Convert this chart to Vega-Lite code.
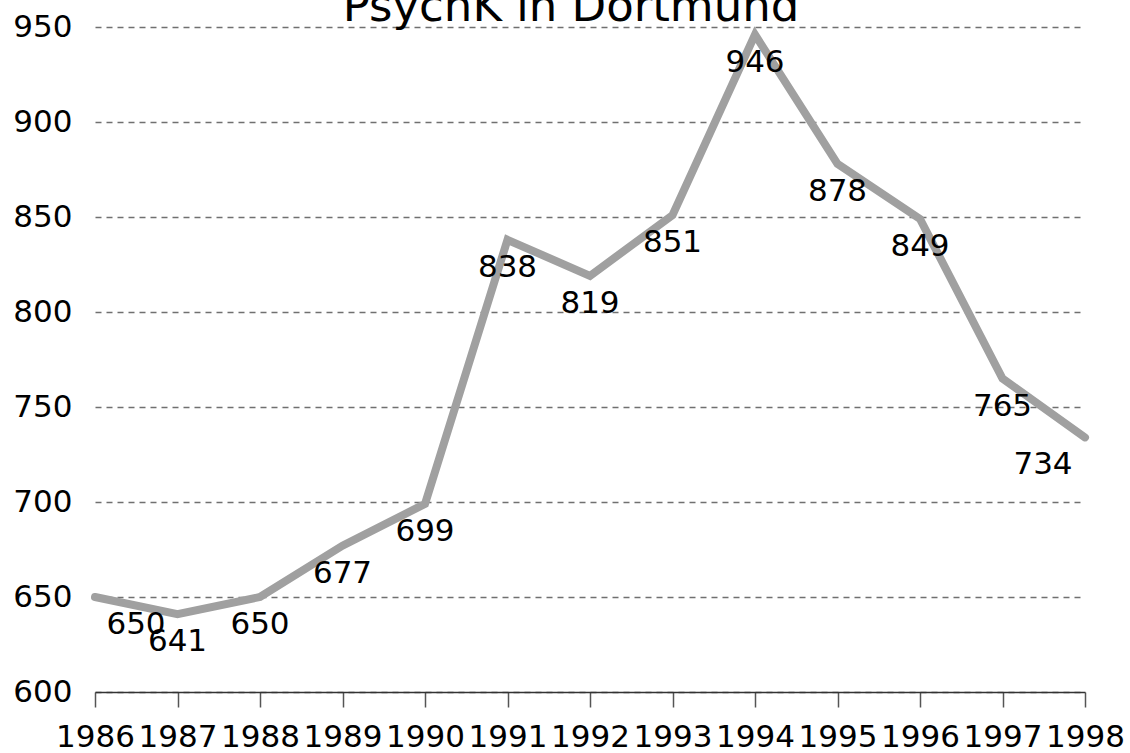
{
  "$schema": "https://vega.github.io/schema/vega-lite/v6.json",
  "width": 990,
  "height": 665,
  "autosize": "none",
  "padding": {"left": 95, "top": 27, "right": 45, "bottom": 61},
  "background": "white",
  "config": {
    "view": {"stroke": null},
    "font": "DejaVu Sans"
  },
  "title": {
    "text": "PsychK in Dortmund",
    "fontSize": 45,
    "fontWeight": "normal",
    "font": "DejaVu Sans",
    "color": "black",
    "anchor": "middle",
    "frame": "group",
    "baseline": "alphabetic",
    "offset": -55,
    "dx": -19
  },
  "data": {
    "values": [
      {"year": "1986", "value": 650},
      {"year": "1987", "value": 641},
      {"year": "1988", "value": 650},
      {"year": "1989", "value": 677},
      {"year": "1990", "value": 699},
      {"year": "1991", "value": 838},
      {"year": "1992", "value": 819},
      {"year": "1993", "value": 851},
      {"year": "1994", "value": 946},
      {"year": "1995", "value": 878},
      {"year": "1996", "value": 849},
      {"year": "1997", "value": 765},
      {"year": "1998", "value": 734}
    ]
  },
  "encoding": {
    "x": {
      "field": "year",
      "type": "ordinal",
      "scale": {"type": "point", "padding": 0},
      "axis": {
        "title": null,
        "labelAngle": 0,
        "labelFontSize": 31,
        "labelColor": "black",
        "labelFont": "DejaVu Sans",
        "labelPadding": 15,
        "domainColor": "#333333",
        "domainWidth": 1.5,
        "tickColor": "#555555",
        "tickSize": 15,
        "tickWidth": 1.5,
        "grid": false,
        "labelOverlap": false
      }
    },
    "y": {
      "field": "value",
      "type": "quantitative",
      "scale": {"domain": [600, 950], "nice": false, "zero": false},
      "axis": {
        "title": null,
        "values": [600, 650, 700, 750, 800, 850, 900, 950],
        "labelFontSize": 31,
        "labelColor": "black",
        "labelFont": "DejaVu Sans",
        "labelPadding": 23,
        "domain": false,
        "ticks": false,
        "grid": true,
        "gridColor": "#707070",
        "gridDash": [6, 5],
        "gridWidth": 1.3
      }
    }
  },
  "layer": [
    {
      "mark": {"type": "line", "color": "#a0a0a0", "strokeWidth": 8, "strokeCap": "round", "strokeJoin": "miter"}
    },
    {
      "transform": [{"filter": "datum.year != '1986' && datum.year != '1998'"}],
      "mark": {"type": "text", "fontSize": 31, "dy": 28, "color": "black", "font": "DejaVu Sans"},
      "encoding": {"text": {"field": "value", "type": "quantitative"}}
    },
    {
      "transform": [{"filter": "datum.year == '1986'"}],
      "mark": {"type": "text", "fontSize": 31, "dy": 28, "dx": 41, "color": "black", "font": "DejaVu Sans"},
      "encoding": {"text": {"field": "value", "type": "quantitative"}}
    },
    {
      "transform": [{"filter": "datum.year == '1998'"}],
      "mark": {"type": "text", "fontSize": 31, "dy": 28, "dx": -42, "color": "black", "font": "DejaVu Sans"},
      "encoding": {"text": {"field": "value", "type": "quantitative"}}
    }
  ]
}
